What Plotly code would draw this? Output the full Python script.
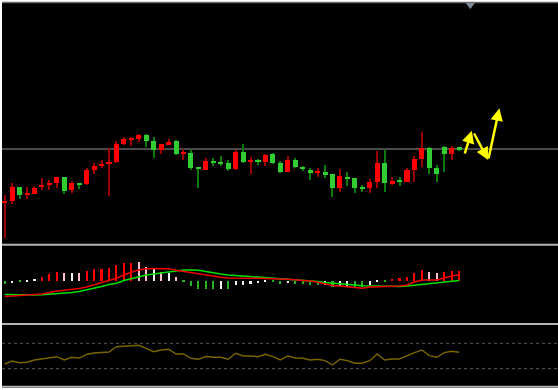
import plotly.graph_objects as go

# ---------------- data ----------------
opens = [97.3, 99, 113, 104.7, 106.3, 113, 114.7, 116.7, 122.7, 109.7,
         117, 115.7, 129.7, 133.7, 135.7, 137.7, 156, 160.3, 160.7, 165,
         159.3, 150.3, 155.3, 159, 146.3, 146.7, 133, 130.3, 139, 137.7,
         136.7, 130.7, 148, 138.7, 140.3, 138, 145.7, 137.3, 128.3, 139.7,
         132.7, 130.3, 127, 128, 125.7, 111.7, 123.3, 121.7, 113, 111.7,
         117.7, 137, 116.3, 120, 118.3, 130.3, 141, 151.7, 132.3, 153,
         146.3, 152.7]
closes = [99, 113, 104.7, 106.7, 112.3, 115, 117, 122.7, 109.3, 117,
          115, 130, 134, 135.7, 138, 156.3, 161, 161.3, 165, 159,
          150.3, 155.7, 158.3, 145.7, 147, 132.3, 130.7, 139, 136.7, 136,
          131, 148.3, 138.3, 140, 138.3, 145.3, 137, 128.3, 139.7, 132.7,
          130.7, 126.7, 128, 124.7, 111.7, 123.7, 121.7, 111.7, 111.7, 117.7,
          137, 116.7, 119, 118.3, 130.3, 141.3, 151.7, 131.7, 126, 146.3,
          152.3, 150.3]
highs = [105, 116.7, 113.5, 113.3, 113.7, 121.7, 120, 123.3, 123.3, 119,
         117.3, 132.3, 136.7, 140, 151.7, 159, 163, 162.7, 165.7, 166,
         162.7, 156.5, 160.7, 160.3, 150.7, 150, 133.5, 141.7, 141.7, 144.3,
         140, 150, 156, 143.3, 141.5, 146.5, 146.7, 139.3, 144, 141.7,
         133.7, 131.7, 132, 135, 126.5, 130.7, 128.3, 122.5, 115, 120.7,
         149.3, 150, 122.7, 123.3, 131.7, 144.3, 167.7, 153.3, 135, 154.3,
         154.3, 152.9]
lows = [61.7, 96, 101, 101, 106, 110, 110, 111.7, 105.7, 106.7,
        111, 115.3, 126.3, 131.7, 104.3, 137.5, 155, 154.3, 158.3, 153,
        141.7, 145.7, 155, 145, 140, 130, 111.7, 130, 133.7, 133.7,
        129.3, 130, 137.3, 125.7, 135, 134.3, 136, 127.3, 127.7, 131.7,
        129.3, 120, 122.7, 121.7, 103.3, 108.3, 114.3, 106.7, 108.3, 106.7,
        111.7, 108.3, 115.5, 114.3, 117.7, 118.3, 133.3, 126, 117.7, 128.3,
        140, 149]
price_line = 151.0

hist = [-3, -2, -1.5, -1.5, 1.5, 3.8, 6.5, 8.5, 7.5, 7.5,
        7.5, 9.2, 11.2, 11.8, 12.5, 15.2, 17.2, 17.8, 18.5, 13.8,
        11.5, 8.8, 7.2, 3.5, -1, -5.2, -8.8, -8.8, -8.8, -8.8,
        -8.8, -4.8, -4.5, -3.5, -2.8, -1.5, -1.5, -3.2, -2.2, -3.2,
        -3.5, -4.2, -4.5, -4.8, -6.2, -5.2, -5.2, -6.2, -6.2, -4.5,
        -0.7, -0.7, 1.5, 2.2, 3.8, 7.2, 10.5, 8.8, 7.2, 8.2,
        9.8, 9.8]
hist_state = ["g", "w", "g", "w", "w", "r", "r", "r", "p", "w",
              "p", "r", "r", "r", "r", "r", "r", "r", "p", "p",
              "w", "p", "w", "p", "g", "g", "g", "g", "g", "w",
              "g", "w", "w", "w", "w", "w", "g", "g", "w", "g",
              "g", "g", "g", "w", "g", "w", "w", "g", "g", "w",
              "w", "g", "r", "r", "r", "r", "r", "p", "p", "r",
              "r", "r"]
macd_main = [-16, -15.5, -15.2, -14.8, -14.5, -13.5, -12, -10.5, -9.8, -9,
             -8, -6.5, -4, -2, 0, 2.2, 5.5, 8.5, 10.5, 11.8,
             12, 12, 11.8, 10.2, 9, 7.8, 6.5, 5, 4, 3.2,
             2.5, 2.2, 2.2, 2.2, 2.2, 2.2, 1.7, 1.5, 1.2, 0.8,
             0.5, -0.5, -1.8, -3.2, -5, -5.5, -6, -7, -7.8, -6.5,
             -6.2, -6.2, -6.2, -5.5, -4.5, -1.5, 0.5, 0.5, 0.5, 2.5,
             4.5, 5.5]
macd_signal = [-14, -14.2, -14.5, -14.5, -14.5, -14.2, -13.8, -13.2, -12.8, -12,
               -11, -9.5, -8, -6, -4, -2.8, 0, 2, 4, 5.5,
               6.5, 7.5, 8.5, 10, 10.5, 10.5, 10.2, 9, 7.5, 6.5,
               5.5, 5, 4, 3.5, 3.2, 2.8, 2.5, 2.2, 1.5, 0.8,
               0.5, -0.2, -1, -2, -2.8, -3.2, -3.8, -4.5, -5.2, -5.5,
               -5.8, -6, -6.2, -6, -5.5, -4.8, -3.8, -3.3, -2.8, -1.8,
               -1.2, 0]
osc = [37.4, 42.1, 39.4, 40.1, 43.7, 45.3, 46.4, 48.9, 43.7, 48.0,
       46.8, 52.4, 54.7, 55.5, 56.3, 64.6, 65.7, 66.1, 66.9, 62.1,
       56.8, 59.4, 60.6, 53.1, 53.1, 46.4, 44.8, 49.2, 48.0, 48.0,
       44.8, 54.3, 50.0, 50.0, 48.9, 52.7, 48.9, 43.7, 50.0, 46.8,
       46.4, 43.7, 44.8, 42.6, 35.8, 44.8, 42.6, 38.5, 38.5, 42.6,
       53.1, 43.7, 45.3, 45.3, 50.5, 55.2, 59.4, 50.5, 48.0, 55.2,
       57.4, 55.8]
osc_levels = [70, 30]

# forecast arrows (tail -> head), in bar index / price units
arrow_tail_x = [61.7, 62.9, 64.9]
arrow_tail_y = [145, 168, 140]
arrow_head_x = [62.7, 64.9, 66.4]
arrow_head_y = [169.3, 140, 191.7]
shift_marker = (62.5, 295.5)

# ---------------- figure ----------------
n = len(opens)
x = list(range(n))
UP_BODY, DN_BODY = "#ff0000", "#32cd32"
UP_WICK, DN_WICK = "#9a0000", "#0a7a0a"

up = [c >= o for o, c in zip(opens, closes)]
wick_base = lows
wick_len = [h - l for h, l in zip(highs, lows)]
body_base = [min(o, c) for o, c in zip(opens, closes)]
body_len = [max(abs(c - o), 1.2) for o, c in zip(opens, closes)]

fig = go.Figure()
fig.add_trace(go.Bar(x=x, y=wick_len, base=wick_base, width=0.14,
                     marker=dict(color=[UP_WICK if u else DN_WICK for u in up], line=dict(width=0)),
                     xaxis="x", yaxis="y", hoverinfo="skip"))
fig.add_trace(go.Bar(x=x, y=body_len, base=body_base, width=0.68,
                     marker=dict(color=[UP_BODY if u else DN_BODY for u in up], line=dict(width=0)),
                     xaxis="x", yaxis="y", hoverinfo="skip"))
fig.add_trace(go.Scatter(x=[shift_marker[0]], y=[shift_marker[1]], mode="markers",
                         marker=dict(symbol="triangle-down", size=9, color="#7d8b99"),
                         cliponaxis=False, xaxis="x", yaxis="y", hoverinfo="skip"))

hcolor = {"r": "#ff0000", "p": "#ffc0cb", "w": "#f4f4f4", "g": "#22b422"}
fig.add_trace(go.Bar(x=x, y=hist, base=0, width=0.28,
                     marker=dict(color=[hcolor[s] for s in hist_state], line=dict(width=0)),
                     xaxis="x2", yaxis="y2", hoverinfo="skip"))
fig.add_trace(go.Scatter(x=x, y=macd_signal, mode="lines",
                         line=dict(color="#00e000", width=1.6), xaxis="x2", yaxis="y2"))
fig.add_trace(go.Scatter(x=x, y=macd_main, mode="lines",
                         line=dict(color="#ee0000", width=1.6), xaxis="x2", yaxis="y2"))

fig.add_trace(go.Scatter(x=x, y=osc, mode="lines",
                         line=dict(color="#7a6400", width=1.4), xaxis="x3", yaxis="y3"))

xr = [-0.36, 74.27]
ax_common = dict(visible=False, showgrid=False, zeroline=False, fixedrange=True)
fig.update_layout(
    width=558, height=390,
    margin=dict(l=2, r=0, t=2, b=2),
    paper_bgcolor="white", plot_bgcolor="black",
    showlegend=False, barmode="overlay", bargap=0,
    xaxis=dict(range=xr, domain=[0, 1], anchor="y", **ax_common),
    xaxis2=dict(range=xr, domain=[0, 1], anchor="y2", **ax_common),
    xaxis3=dict(range=xr, domain=[0, 1], anchor="y3", **ax_common),
    yaxis=dict(range=[56.5, 297], domain=[0.37435, 0.99741], anchor="x", **ax_common),
    yaxis2=dict(range=[-41.5, 34.5], domain=[0.17098, 0.36788], anchor="x2", **ax_common),
    yaxis3=dict(range=[4.3, 98.8], domain=[0.00777, 0.1632], anchor="x3", **ax_common),
)

shapes = []
shapes.append(dict(type="rect", xref="paper", yref="paper", x0=0, x1=1, y0=0, y1=1,
                   fillcolor="black", line=dict(width=0), layer="below"))
shapes.append(dict(type="line", xref="paper", yref="paper", x0=0, x1=1, y0=0.9987, y1=0.9987,
                   line=dict(color="#6a6a6a", width=1.5)))
for yy in [0.371, 0.1658, 0.0031]:
    shapes.append(dict(type="line", xref="paper", yref="paper", x0=0, x1=1, y0=yy, y1=yy,
                       line=dict(color="#b4b4b4", width=2)))
shapes.append(dict(type="line", xref="paper", yref="y", x0=0, x1=1, y0=price_line, y1=price_line,
                   line=dict(color="#4a4a4a", width=2), layer="below"))
for lv in osc_levels:
    shapes.append(dict(type="line", xref="paper", yref="y3", x0=0, x1=1, y0=lv, y1=lv,
                       line=dict(color="#5a5a5a", width=1, dash="dot")))
fig.update_layout(shapes=shapes)

for tx, ty, hx, hy in zip(arrow_tail_x, arrow_tail_y, arrow_head_x, arrow_head_y):
    fig.add_annotation(x=hx, y=hy, ax=tx, ay=ty, xref="x", yref="y", axref="x", ayref="y",
                       text="", showarrow=True, arrowhead=2, arrowsize=1.0, arrowwidth=2.5,
                       arrowcolor="#ffff00", standoff=0, startstandoff=0)

fig.write_html("out.html", config={"displayModeBar": False})

# remove the default page margin so the figure sits at the window origin
with open("out.html", "r", encoding="utf-8") as f:
    html = f.read()
html = html.replace("<head>", "<head><style>html,body{margin:0;padding:0;overflow:hidden;}</style>", 1)
with open("out.html", "w", encoding="utf-8") as f:
    f.write(html)
